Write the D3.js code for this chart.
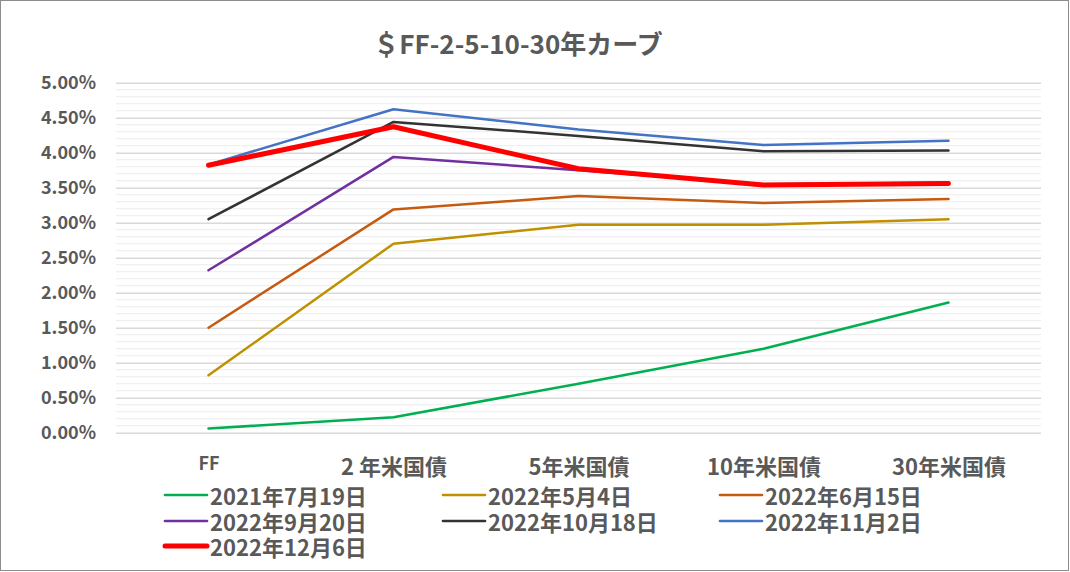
<!DOCTYPE html>
<html>
<head>
<meta charset="utf-8">
<script src="https://cdn.jsdelivr.net/npm/d3@7"></script>
<style>
  html, body { margin: 0; padding: 0; background: #fff; }
  svg text { font-family: "Noto Sans CJK JP", "Noto Sans", sans-serif; font-weight: 700; fill: #595959; }
</style>
</head>
<body>
<svg id="chart" width="1070" height="572"></svg>
<script>
const title = "＄FF-2-5-10-30年カーブ";
const categories = ["FF", "2 年米国債", "5年米国債", "10年米国債", "30年米国債"];
const yTicks = [0, 0.5, 1.0, 1.5, 2.0, 2.5, 3.0, 3.5, 4.0, 4.5, 5.0];
const seriesNames = ["2021年7月19日", "2022年5月4日", "2022年6月15日", "2022年9月20日", "2022年10月18日", "2022年11月2日", "2022年12月6日"];
const seriesColors = ["#00b050", "#bf9000", "#c55a11", "#7030a0", "#333333", "#4472c4", "#ff0000"];
const s20210719 = [0.06, 0.22, 0.70, 1.20, 1.86];
const s20220504 = [0.82, 2.70, 2.97, 2.97, 3.05];
const s20220615 = [1.50, 3.19, 3.38, 3.28, 3.34];
const s20220920 = [2.32, 3.94, 3.75, 3.55, 3.57];
const s20221018 = [3.05, 4.44, 4.24, 4.02, 4.03];
const s20221102 = [3.83, 4.62, 4.33, 4.11, 4.17];
const s20221206 = [3.82, 4.37, 3.77, 3.54, 3.56];
const seriesValues = [s20210719, s20220504, s20220615, s20220920, s20221018, s20221102, s20221206];

const svg = d3.select("#chart");
const W = 1070, H = 572;
const plot = { left: 116, right: 1041, top: 82.7, bottom: 432.7 };

svg.append("rect").attr("x", 0.5).attr("y", 0.5).attr("width", W - 2).attr("height", H - 2)
  .attr("fill", "#fff").attr("stroke", "#8c8c8c").attr("stroke-width", 1);

const x = d3.scalePoint().domain(categories).range([plot.left, plot.right]).padding(0.5);
const y = d3.scaleLinear().domain([0, 5]).range([plot.bottom, plot.top]);

// minor gridlines
const minor = d3.range(0, 50).map(i => i / 10).filter(v => Math.round(v * 10) % 5 !== 0);
svg.append("g").selectAll("line").data(minor).join("line")
  .attr("x1", plot.left).attr("x2", plot.right)
  .attr("y1", d => y(d)).attr("y2", d => y(d))
  .attr("stroke", "#f0f0f0").attr("stroke-width", 1.3);

// major gridlines + y axis labels
const yAxis = d3.axisLeft(y).tickValues(yTicks).tickFormat(d => d.toFixed(2) + "%")
  .tickSize(-(plot.right - plot.left)).tickPadding(20);
const gy = svg.append("g").attr("transform", `translate(${plot.left},0)`).call(yAxis);
gy.select(".domain").remove();
gy.selectAll(".tick line").attr("stroke", "#d9d9d9").attr("stroke-width", 1.4);
gy.selectAll(".tick text").attr("font-size", 18).attr("fill", "#595959");

// x axis labels
const xAxis = d3.axisBottom(x).tickSize(0).tickPadding(0);
const gx = svg.append("g").attr("transform", `translate(0,${plot.bottom})`).call(xAxis);
gx.select(".domain").remove();
gx.selectAll(".tick text")
  .attr("font-size", d => d === "FF" ? 18 : 22)
  .attr("dy", null)
  .attr("y", d => d === "FF" ? 29 : 32)
  .attr("dominant-baseline", "central")
  .attr("fill", "#595959");

// lines
const line = d3.line().x((d, i) => x(categories[i])).y(d => y(d));
svg.append("g").selectAll("path").data(seriesValues).join("path")
  .attr("d", d => line(d))
  .attr("fill", "none")
  .attr("stroke", (d, i) => seriesColors[i])
  .attr("stroke-width", (d, i) => i === 6 ? 5 : 2.5)
  .attr("stroke-linejoin", "round")
  .attr("stroke-linecap", "round");

// title
svg.append("text").attr("x", 518).attr("y", 42).attr("text-anchor", "middle")
  .attr("dominant-baseline", "central").attr("font-size", 26).text(title);

// legend
const legend = svg.append("g");
const colX = [165, 443, 720];
const rowY = [495, 521, 546];
seriesNames.forEach((name, i) => {
  const cx = colX[i % 3], cy = rowY[Math.floor(i / 3)];
  legend.append("line").attr("x1", cx).attr("x2", cx + 42).attr("y1", cy).attr("y2", cy)
    .attr("stroke", seriesColors[i]).attr("stroke-width", i === 6 ? 5 : 2.7)
    .attr("stroke-linecap", "round");
  legend.append("text").attr("x", cx + 45).attr("y", cy).attr("dominant-baseline", "central")
    .attr("font-size", 22).text(name);
});
</script>
</body>
</html>
